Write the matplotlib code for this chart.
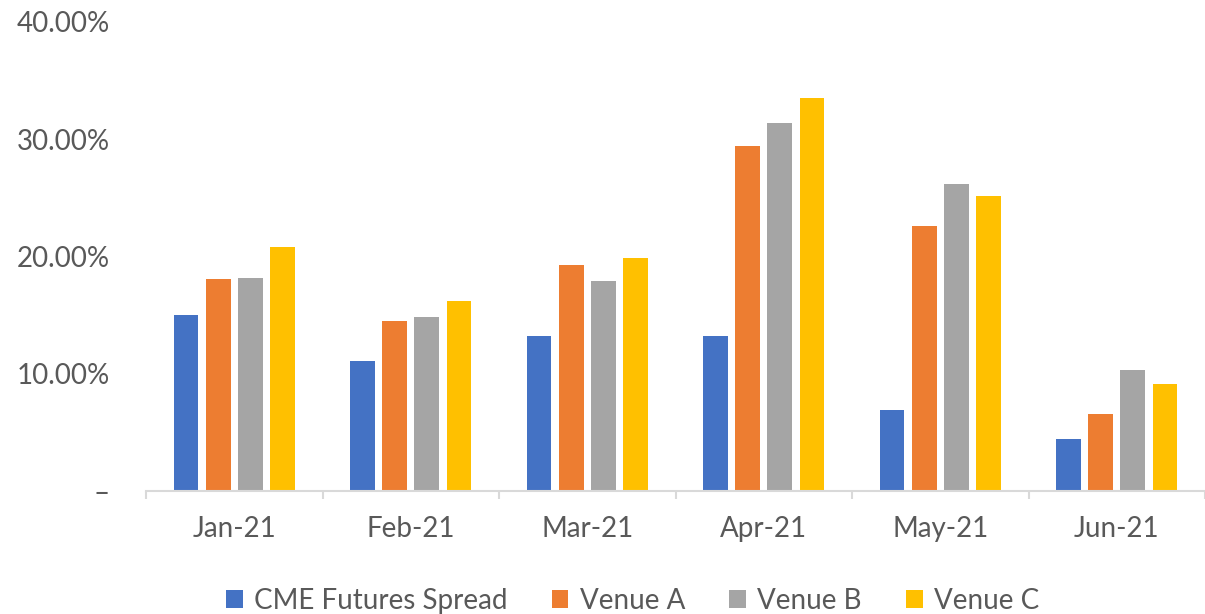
import matplotlib.pyplot as plt
import numpy as np
from matplotlib.ticker import FuncFormatter

months = ["Jan-21", "Feb-21", "Mar-21", "Apr-21", "May-21", "Jun-21"]
series_names = ["CME Futures Spread", "Venue A", "Venue B", "Venue C"]
cme = [0.150, 0.111, 0.132, 0.132, 0.069, 0.044]
venue_a = [0.181, 0.145, 0.193, 0.294, 0.226, 0.066]
venue_b = [0.182, 0.148, 0.179, 0.314, 0.262, 0.103]
venue_c = [0.208, 0.162, 0.199, 0.335, 0.252, 0.091]
colors = ["#4472C4", "#ED7D31", "#A5A5A5", "#FFC000"]

plt.rcParams["font.family"] = ["Lato", "DejaVu Sans"]
text_color = "#595959"

fig = plt.figure(figsize=(12.05, 6.14), dpi=100)
ax = fig.add_axes([146 / 1205, 123 / 614, 1059 / 1205, 469 / 614])

x = np.arange(len(months))
step = 0.182
width = 0.14
for i, (name, vals) in enumerate(zip(series_names, [cme, venue_a, venue_b, venue_c])):
    ax.bar(x + (i - 1.5) * step, vals, width, color=colors[i], label=name)

ax.set_ylim(0, 0.40)
ax.set_xlim(-0.5, -0.5 + 1059 / 179)
ax.set_yticks([0, 0.1, 0.2, 0.3, 0.4])
ax.yaxis.set_major_formatter(FuncFormatter(lambda v, _: "–" if v == 0 else f"{v * 100:.2f}%"))
ax.set_xticks(x)
ax.set_xticklabels(months)
ax.set_xticks(np.arange(-0.5, 6.5), minor=True)

ax.tick_params(axis="y", length=0, pad=26, labelsize=20, labelcolor=text_color)
ax.tick_params(axis="x", which="major", length=0, pad=18, labelsize=20, labelcolor=text_color)
ax.tick_params(axis="x", which="minor", length=6, width=1.5, color="#d9d9d9")

for side in ["top", "right", "left"]:
    ax.spines[side].set_visible(False)
ax.spines["bottom"].set_color("#d9d9d9")
ax.spines["bottom"].set_linewidth(1.5)

fig.legend(loc="center", bbox_to_anchor=(0.525, 0.021), ncol=4, frameon=False,
           fontsize=20, labelcolor=text_color, handlelength=0.6, handleheight=0.6,
           handletextpad=0.4, columnspacing=1.6)

fig.savefig("out.png", dpi=100)
